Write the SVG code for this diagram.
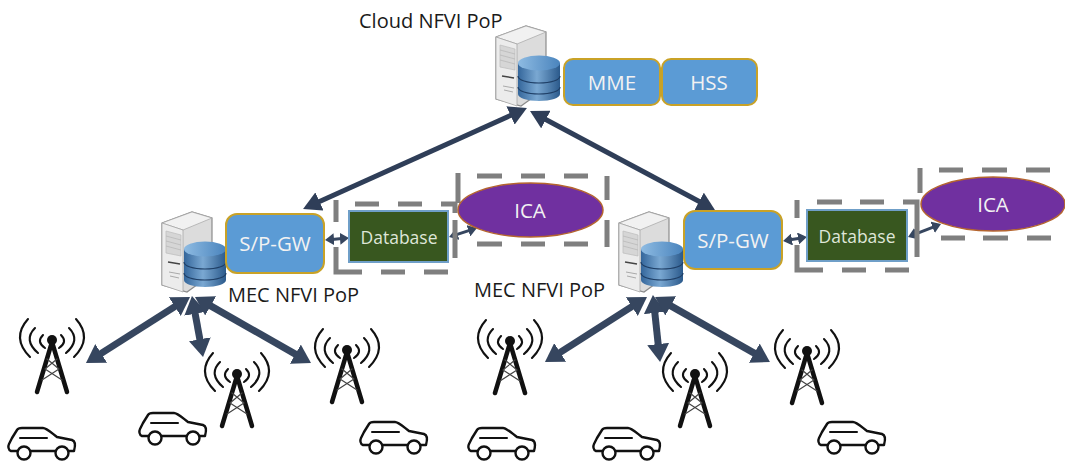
<svg xmlns="http://www.w3.org/2000/svg" width="1065" height="461" viewBox="0 0 1065 461">
<style>
text{font-family:"Open Sans","Noto Sans","Liberation Sans",sans-serif}
.lbl{font-size:20px;fill:#1a1a1a}
.w{fill:#f2f2f2;text-anchor:middle;font-size:20.500px}
.d{font-size:17.500px;fill:#dfe6d8}
.blue{fill:#5b9bd5;stroke:#c9a227;stroke-width:2}
.db{fill:#38571f;stroke:#6f9fc8;stroke-width:2}
.ica{fill:#7030a0;stroke:#b5652f;stroke-width:1.500}
.dash{fill:none;stroke:#7f7f7f;stroke-width:5}
.a1{stroke:#2f3e58;stroke-width:5;fill:none;marker-start:url(#h);marker-end:url(#h)}
.a2{stroke:#36465f;stroke-width:7;fill:none;marker-start:url(#h2);marker-end:url(#h2)}
.a3{stroke:#36465f;stroke-width:3;fill:none;marker-start:url(#h3);marker-end:url(#h3)}
.ink{fill:none;stroke:#111;stroke-linecap:round;stroke-linejoin:round}
</style>
<defs>
<marker id="h" markerUnits="userSpaceOnUse" markerWidth="20" markerHeight="20" refX="6" refY="10" orient="auto-start-reverse"><path d="M0 0L18 10L0 20z" fill="#2f3e58"/></marker>
<marker id="h2" markerUnits="userSpaceOnUse" markerWidth="20" markerHeight="22" refX="6" refY="11" orient="auto-start-reverse"><path d="M0 0L18 11L0 22z" fill="#36465f"/></marker>
<marker id="h3" markerUnits="userSpaceOnUse" markerWidth="11" markerHeight="12" refX="2" refY="6" orient="auto-start-reverse"><path d="M0 0L9 6L0 12z" fill="#36465f"/></marker>
<linearGradient id="cyl" x1="0" x2="1" y1="0" y2="0"><stop offset="0" stop-color="#34669b"/><stop offset=".45" stop-color="#7aa8d2"/><stop offset="1" stop-color="#2b5a8c"/></linearGradient>
<linearGradient id="cylt" x1="0" x2="1" y1="0" y2="0"><stop offset="0" stop-color="#8ebbe2"/><stop offset="1" stop-color="#4a84bd"/></linearGradient>
<g id="server">
<path d="M0 11L30 0L50 6V62L25 80L0 73z" fill="#dcdcdc" stroke="#8c8c8c" stroke-width="1.200"/>
<path d="M30 0L50 6L21 18L0 11z" fill="#f1f1f1" stroke="#a5a5a5" stroke-width=".7"/>
<path d="M21 18V80L0 73V11z" fill="#ececec" stroke="#a0a0a0" stroke-width=".7"/>
<path d="M4 19L19 23V44L4 41z" fill="#d6d6d6" stroke="#bbb" stroke-width=".7"/>
<path d="M4 24L19 28M4 29L19 33M4 34L19 38" stroke="#b5b5b5" stroke-width=".7" fill="none"/>
<path d="M6 50L18 52" stroke="#444" stroke-width="1.500" fill="none"/>
<path d="M7 60L18 62M8 64L17 66" stroke="#aaa" stroke-width="1" fill="none"/>
<path d="M22 37V68C22 72 31 75 43 75C55 75 64 72 64 68V37z" fill="url(#cyl)"/>
<ellipse cx="43" cy="37" rx="21" ry="7.500" fill="url(#cylt)"/>
<path d="M22 50C22 54 31 57 43 57C55 57 64 54 64 50M22 61C22 65 31 68 43 68C55 68 64 65 64 61" fill="none" stroke="#1f3f66" stroke-width="1.200"/>
</g>
<g id="tower">
<circle cx="0" cy="0" r="5" fill="#111"/>
<path class="ink" stroke-width="4.500" d="M0 2L-15 52M0 2L15 52"/>
<path class="ink" stroke-width="1.200" style="stroke:#444" d="M-5 19L7 29L-10 40M5 19L-7 29L10 40"/>
<g class="ink" stroke-width="2.100">
<path d="M-9 -5Q-16 2 -7 8M9 -5Q16 2 7 8"/>
<path d="M-17 -12Q-29 0 -14 13M17 -12Q29 0 14 13"/>
<path d="M-24 -21Q-41 -2 -22 17M24 -21Q41 -2 22 17"/>
</g>
</g>
<g id="car" class="ink">
<path stroke-width="2.400" d="M9 23H3C0 22 0 18 1 16L4 10L9 2C10 0 12 0 14 0H35C38 0 40 2 49 9L64 12C67 13 68 16 66 23H61M47 23H23"/>
<circle cx="16" cy="25" r="6.500" stroke-width="2.400"/>
<circle cx="54" cy="25" r="6.500" stroke-width="2.400"/>
<path stroke-width="2" d="M12 10H39"/>
</g>
</defs>

<g id="connectors">
<path class="a1" d="M516 113L314 204"/>
<path class="a1" d="M540.600 116.700L704.400 204.300"/>
<path class="a2" d="M179.900 303.400L96.100 356.600"/>
<path class="a2" d="M194.100 307.800L200.900 345.200"/>
<path class="a2" d="M205.400 302.900L300.600 357.100"/>
<path class="a2" d="M636.900 303.400L555.100 355.600"/>
<path class="a2" d="M654.200 307L658.800 350"/>
<path class="a2" d="M665.500 302.900L759.500 356.100"/>
<path class="a3" d="M332 239.400L342 238.600"/>
<path class="a3" d="M455.700 234.900L470.300 230.100"/>
<path class="a3" d="M790 239.800L800 238.200"/>
<path class="a3" d="M914.500 234.400L934.500 226.600"/>
</g>

<g id="cloud-pop">
<text class="lbl" x="359" y="28">Cloud NFVI PoP</text>
<use href="#server" x="496" y="26"/>
</g>
<g id="mme"><rect class="blue" x="564" y="59" width="96" height="46" rx="9"/><text class="w" x="612" y="90">MME</text></g>
<g id="hss"><rect class="blue" x="662" y="59" width="95" height="46" rx="9"/><text class="w" x="709" y="90">HSS</text></g>

<g id="mec-pop-1">
<use href="#server" x="162" y="212"/>
<text class="lbl" x="228" y="302">MEC NFVI PoP</text>
</g>
<g id="spgw-1"><rect class="blue" x="226" y="214" width="98" height="59" rx="11"/><text class="w" x="275" y="251">S/P-GW</text></g>
<g id="db-1"><path class="dash" d="M355 204H379M398 204H422M441 204H455V213M455 220V258M448 272H424M405 272H381M362 272H336V247M336 222V200"/><rect class="db" x="349" y="211" width="99" height="51"/><text class="w d" x="399" y="244">Database</text></g>
<g id="ica-1"><path class="dash" d="M477 176H502M521 176H545M564 176H588M607 176V200M607 220V247M477 244H502M521 244H545M564 244H588M458 173V203"/><ellipse class="ica" cx="530.500" cy="210" rx="72.500" ry="27"/><text class="w" x="530" y="218">ICA</text></g>

<g id="mec-pop-2">
<use href="#server" x="619" y="212"/>
<text class="lbl" x="474" y="297">MEC NFVI PoP</text>
</g>
<g id="spgw-2"><rect class="blue" x="684" y="211" width="98" height="58" rx="11"/><text class="w" x="733" y="248">S/P-GW</text></g>
<g id="db-2"><path class="dash" d="M817 202H842M860 202H884M903 202H917V257M909 270H885M866 270H842M823 270H797V245M797 218V200"/><rect class="db" x="807" y="210" width="100" height="51"/><text class="w d" x="857" y="243">Database</text></g>
<g id="ica-2"><path class="dash" d="M939 170H963M982 170H1007M1026 170H1050M941 238H965M983 238H1008M1027 238H1051M920 168V193"/><ellipse class="ica" cx="993" cy="204" rx="72" ry="27"/><text class="w" x="993" y="212">ICA</text></g>

<g id="tower-1"><use href="#tower" x="52" y="340"/></g>
<g id="tower-2"><use href="#tower" x="237" y="374"/></g>
<g id="tower-3"><use href="#tower" x="347" y="350"/></g>
<g id="tower-4"><use href="#tower" x="510" y="341"/></g>
<g id="tower-5"><use href="#tower" x="695" y="374"/></g>
<g id="tower-6"><use href="#tower" x="807" y="351"/></g>

<g id="car-1"><use href="#car" x="8" y="428"/></g>
<g id="car-2"><use href="#car" x="139" y="413"/></g>
<g id="car-3"><use href="#car" x="360" y="422"/></g>
<g id="car-4"><use href="#car" x="468" y="428"/></g>
<g id="car-5"><use href="#car" x="593" y="428"/></g>
<g id="car-6"><use href="#car" x="818" y="422"/></g>
</svg>
